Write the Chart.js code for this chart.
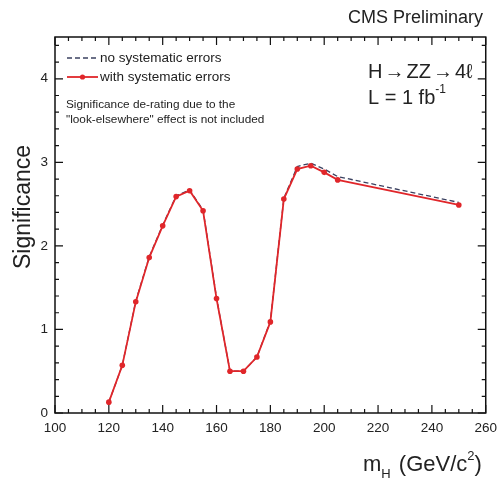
<!DOCTYPE html>
<html>
<head>
<meta charset="utf-8">
<script src="https://cdn.jsdelivr.net/npm/chart.js@4"></script>
<style>
  html, body { margin: 0; padding: 0; background: #fff; }
  #wrap { width: 504px; height: 486px; }
</style>
</head>
<body>
<div id="wrap"><canvas id="sig" width="504" height="486"></canvas></div>
<script>
// Higgs mass points (GeV/c^2)
const masses = [120, 125, 130, 135, 140, 145, 150, 155, 160, 165, 170, 175, 180, 185, 190, 195, 200, 205, 250]
// significance with systematic errors (red, with markers)
const withSyst = [0.13, 0.57, 1.33, 1.86, 2.24, 2.59, 2.66, 2.42, 1.37, 0.50, 0.50, 0.67, 1.09, 2.56, 2.92, 2.96, 2.88, 2.79, 2.49]
// significance without systematic errors (dashed)
const noSyst = [0.13, 0.57, 1.34, 1.87, 2.25, 2.60, 2.67, 2.43, 1.38, 0.50, 0.50, 0.67, 1.10, 2.57, 2.95, 2.99, 2.92, 2.83, 2.52]
const xTicks = [100, 120, 140, 160, 180, 200, 220, 240, 260]
const yTicks = [0, 1, 2, 3, 4]

const FONT = '"Liberation Sans", Arial, Helvetica, sans-serif'
const red = '#e0262a'
const dark = '#3b4160'

const toPts = ys => masses.map((m, i) => ({ x: m, y: ys[i] }))

// frame, inward ticks on all sides, legend and labels
const decor = {
  id: 'decor',
  afterDraw(chart) {
    const { ctx, chartArea: a, scales: { x, y } } = chart
    ctx.save()
    ctx.strokeStyle = '#111'
    ctx.lineWidth = 1.5
    ctx.strokeRect(a.left, a.top, a.right - a.left, a.bottom - a.top)

    ctx.lineWidth = 1.2
    ctx.beginPath()
    for (let v = 100; v <= 260; v += 5) {
      const px = x.getPixelForValue(v)
      const len = v % 20 === 0 ? 8 : 4
      ctx.moveTo(px, a.bottom); ctx.lineTo(px, a.bottom - len)
      ctx.moveTo(px, a.top); ctx.lineTo(px, a.top + len)
    }
    for (let i = 0; i <= 22; i++) {
      const v = i * 0.2
      const py = y.getPixelForValue(v)
      const len = i % 5 === 0 ? 8 : 4
      ctx.moveTo(a.left, py); ctx.lineTo(a.left + len, py)
      ctx.moveTo(a.right, py); ctx.lineTo(a.right - len, py)
    }
    ctx.stroke()

    // legend
    ctx.lineWidth = 1.3
    ctx.strokeStyle = dark
    ctx.setLineDash([5, 3])
    ctx.beginPath(); ctx.moveTo(67, 58); ctx.lineTo(98, 58); ctx.stroke()
    ctx.setLineDash([])
    ctx.strokeStyle = red
    ctx.lineWidth = 1.8
    ctx.beginPath(); ctx.moveTo(67, 77); ctx.lineTo(98, 77); ctx.stroke()
    ctx.fillStyle = red
    ctx.beginPath(); ctx.arc(82.5, 77, 2.6, 0, Math.PI * 2); ctx.fill()

    ctx.fillStyle = '#222'
    ctx.textBaseline = 'middle'
    ctx.textAlign = 'left'
    ctx.font = '13.5px ' + FONT
    ctx.fillText('no systematic errors', 100, 58)
    ctx.fillText('with systematic errors', 100, 77)
    ctx.font = '11.8px ' + FONT
    ctx.fillText('Significance de-rating due to the', 66, 105)
    ctx.fillText('"look-elsewhere" effect is not included', 66, 120)

    // channel and luminosity
    ctx.font = '20px ' + FONT
    let hx = 368
    for (const part of ['H', '\u2192', 'ZZ', '\u2192', '4\u2113']) {
      ctx.fillText(part, hx, 72)
      hx += ctx.measureText(part).width + 2
    }
    ctx.fillText('L = 1 fb', 368, 98)
    let w = ctx.measureText('L = 1 fb').width
    ctx.font = '12px ' + FONT
    ctx.fillText('-1', 368 + w, 90)

    // header
    ctx.font = '18px ' + FONT
    ctx.textAlign = 'right'
    ctx.fillText('CMS Preliminary', 483, 18)

    // x-axis title  m_H (GeV/c^2)
    ctx.textAlign = 'left'
    ctx.font = '22px ' + FONT
    let cx = 363
    ctx.fillText('m', cx, 465); cx += ctx.measureText('m').width
    ctx.font = '13px ' + FONT
    ctx.fillText('H', cx, 474); cx += ctx.measureText('H').width + 2
    ctx.font = '22px ' + FONT
    ctx.fillText(' (GeV/c', cx, 465); cx += ctx.measureText(' (GeV/c').width
    ctx.font = '13px ' + FONT
    ctx.fillText('2', cx, 456); cx += ctx.measureText('2').width
    ctx.font = '22px ' + FONT
    ctx.fillText(')', cx, 465)

    // y-axis title
    ctx.translate(24, 207)
    ctx.rotate(-Math.PI / 2)
    ctx.textAlign = 'center'
    ctx.font = '23px ' + FONT
    ctx.fillText('Significance', 0, 0)
    ctx.restore()
  }
}

new Chart(document.getElementById('sig'), {
  type: 'line',
  data: {
    datasets: [{
      label: 'with systematic errors',
      data: toPts(withSyst),
      borderColor: red,
      backgroundColor: red,
      borderWidth: 1.8,
      pointRadius: 2.8,
      pointBorderWidth: 0,
      tension: 0
    }, {
      label: 'no systematic errors',
      data: toPts(noSyst),
      borderColor: dark,
      borderWidth: 1.3,
      borderDash: [5, 3],
      pointRadius: 0,
      tension: 0
    }]
  },
  plugins: [decor],
  options: {
    responsive: false,
    animation: false,
    layout: { padding: { top: 37, right: 17, left: 0, bottom: 0 } },
    plugins: { legend: { display: false }, tooltip: { enabled: false } },
    scales: {
      x: {
        type: 'linear',
        min: 100,
        max: 260,
        afterBuildTicks: s => { s.ticks = xTicks.map(v => ({ value: v })) },
        afterFit: s => { s.height = 73 },
        grid: { display: false, drawTicks: false },
        border: { display: false },
        ticks: { color: '#222', font: { family: FONT, size: 13.5 }, padding: 7 }
      },
      y: {
        min: 0,
        max: 4.5,
        afterBuildTicks: s => { s.ticks = yTicks.map(v => ({ value: v })) },
        afterFit: s => { s.width = 55 },
        grid: { display: false, drawTicks: false },
        border: { display: false },
        ticks: { color: '#222', font: { family: FONT, size: 13.5 }, padding: 7 }
      }
    }
  }
});
</script>
</body>
</html>
